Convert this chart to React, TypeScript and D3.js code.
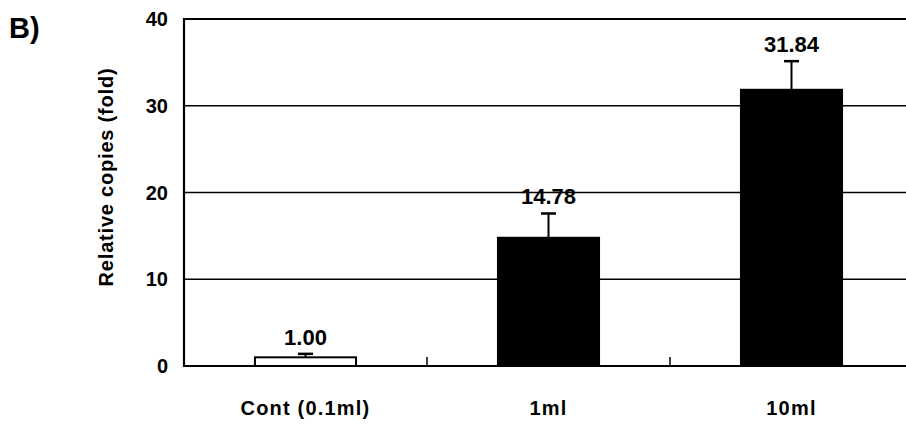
import { useEffect, useRef } from 'react';
import * as d3 from 'd3';

const categories = ['Cont (0.1ml)', '1ml', '10ml'];
const values = [1.0, 14.78, 31.84];
const errors = [0.4, 2.8, 3.3];
const valueLabels = ['1.00', '14.78', '31.84'];
const yTicks = [0, 10, 20, 30, 40];
const fills = ['#fff', '#000', '#000'];

export default function App() {
  const ref = useRef<SVGSVGElement | null>(null);

  useEffect(() => {
    if (!ref.current) return;
    const W = 906, H = 425;
    const svg = d3.select(ref.current).attr('width', W).attr('height', H);
    svg.selectAll('*').remove();
    const font = 'Liberation Sans, Arial, sans-serif';

    const x0 = 184, yTop = 19, yBot = 366;
    const x = d3.scaleBand<string>().domain(categories).range([x0, 913])
      .paddingInner(0.584).paddingOuter(0.292);
    const y = d3.scaleLinear().domain([0, 40]).range([yBot, yTop]);

    // gridlines
    yTicks.filter(t => t > 0).forEach(t => {
      svg.append('line').attr('x1', x0).attr('x2', W).attr('y1', y(t)).attr('y2', y(t))
        .attr('stroke', '#000').attr('stroke-width', t === 40 ? 2.2 : 1.5);
    });

    // bars
    categories.forEach((c, i) => {
      const bx = x(c)!, bw = x.bandwidth();
      svg.append('rect').attr('x', bx).attr('y', y(values[i]))
        .attr('width', bw).attr('height', yBot - y(values[i]))
        .attr('fill', fills[i]).attr('stroke', '#000').attr('stroke-width', 2);
      const cx = bx + bw / 2, top = y(values[i] + errors[i]);
      svg.append('line').attr('x1', cx).attr('x2', cx).attr('y1', y(values[i])).attr('y2', top)
        .attr('stroke', '#000').attr('stroke-width', 2);
      svg.append('line').attr('x1', cx - 7.5).attr('x2', cx + 7.5).attr('y1', top).attr('y2', top)
        .attr('stroke', '#000').attr('stroke-width', 2.5);
      svg.append('text').attr('x', cx).attr('y', top - 9)
        .attr('text-anchor', 'middle').attr('font-family', font).attr('font-weight', 'bold')
        .attr('font-size', 22).text(valueLabels[i]);
      svg.append('text').attr('x', cx).attr('y', 415)
        .attr('text-anchor', 'middle').attr('font-family', font).attr('font-weight', 'bold')
        .attr('font-size', 20).attr('letter-spacing', 1.2).text(c);
    });

    // category separators on x axis
    const step = x.step();
    categories.slice(1).forEach(c => {
      const sx = x(c)! - (step - x.bandwidth()) / 2;
      svg.append('line').attr('x1', sx).attr('x2', sx).attr('y1', yBot).attr('y2', yBot - 9)
        .attr('stroke', '#000').attr('stroke-width', 1.5);
    });

    // axes
    svg.append('line').attr('x1', x0).attr('x2', W).attr('y1', yBot).attr('y2', yBot)
      .attr('stroke', '#000').attr('stroke-width', 2.2);
    svg.append('line').attr('x1', x0).attr('x2', x0).attr('y1', yTop - 1).attr('y2', yBot + 1)
      .attr('stroke', '#000').attr('stroke-width', 2.2);

    yTicks.forEach(t => {
      svg.append('text').attr('x', 168).attr('y', y(t)).attr('dy', '0.36em')
        .attr('text-anchor', 'end').attr('font-family', font).attr('font-weight', 'bold')
        .attr('font-size', 20).text(t);
    });

    svg.append('text').attr('transform', `translate(113,177) rotate(-90)`)
      .attr('text-anchor', 'middle').attr('font-family', font).attr('font-weight', 'bold')
      .attr('font-size', 20).attr('letter-spacing', 0.8).text('Relative copies (fold)');

    svg.append('text').attr('x', 9).attr('y', 38).attr('font-family', font)
      .attr('font-weight', 'bold').attr('font-size', 29).text('B)');
  }, []);

  return <svg ref={ref} style={{ position: 'absolute', left: 0, top: 0, background: '#fff' }} />;
}
